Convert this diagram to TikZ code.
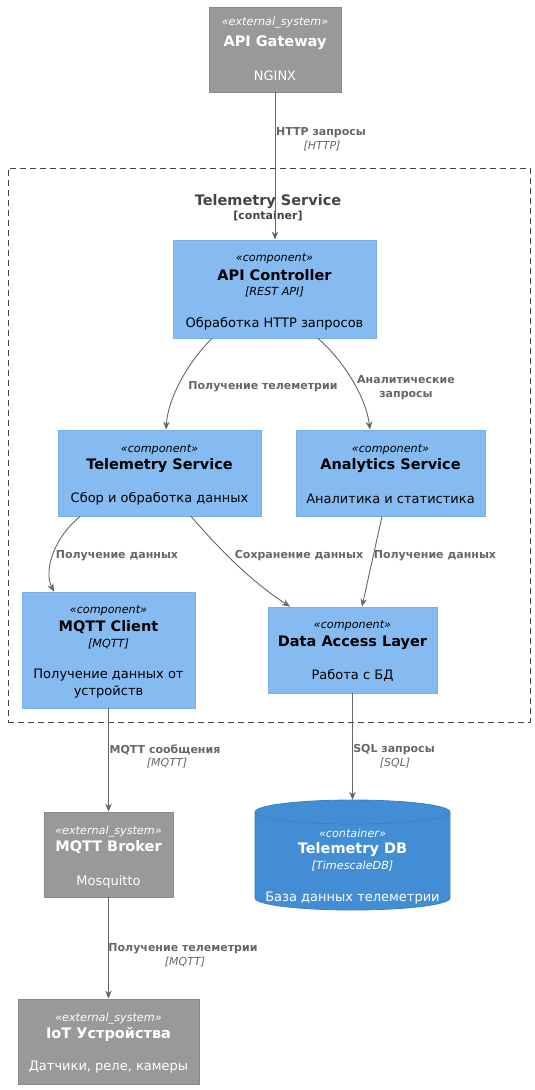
\documentclass[tikz,border=0pt]{standalone}
\usepackage{fontspec}
\setmainfont{DejaVu Sans}
\usetikzlibrary{arrows.meta}
\definecolor{compfill}{HTML}{85BBF0}
\definecolor{compdraw}{HTML}{7AB0E8}
\definecolor{extfill}{HTML}{999999}
\definecolor{extdraw}{HTML}{8A8A8A}
\definecolor{dbfill}{HTML}{438DD5}
\definecolor{dbdraw}{HTML}{3C7FC0}
\definecolor{edgecol}{HTML}{666666}
\definecolor{bndcol}{HTML}{444444}
\newcommand\myster{\fontsize{11.2}{13}\selectfont\itshape}
\newcommand\mytitle{\fontsize{14.5}{17}\selectfont\bfseries}
\newcommand\mydesc{\fontsize{13}{16}\selectfont}
\newcommand\mylbl{\fontsize{11}{13.5}\selectfont\bfseries}
\newcommand\mytech{\fontsize{11}{13}\selectfont\itshape}
\begin{document}
\begin{tikzpicture}[x=1pt,y=-1pt,
  compbox/.style={draw=compdraw, fill=compfill, line width=0.8pt, inner sep=0pt},
  extbox/.style={draw=extdraw, fill=extfill, line width=0.8pt, inner sep=0pt},
  txt/.style={inner sep=0pt, anchor=center, yshift=-1.5pt},
  wtxt/.style={txt, text=white},
  btxt/.style={txt, text=black},
  lbl/.style={inner sep=0pt, anchor=center, yshift=-1.5pt, text=edgecol, align=center, font=\mylbl},
  tech/.style={inner sep=0pt, anchor=center, yshift=-1.5pt, text=edgecol, font=\mytech},
  conn/.style={draw=edgecol, line width=0.9pt, -{Stealth[length=8pt,width=6.5pt]}}]
\useasboundingbox (0,0) rectangle (535,1090);

% boundary
\node[draw=bndcol, dash pattern=on 6pt off 4pt, line width=0.8pt, minimum width=522pt, minimum height=554pt, inner sep=0pt] (bnd) at (269,445) {};
\node[txt, text=bndcol, font=\fontsize{14.5}{17}\selectfont\bfseries] (bnd-t) at (268,200) {Telemetry Service};
\node[txt, text=bndcol, font=\fontsize{11}{13}\selectfont\bfseries] (bnd-c) at (268,215) {[container]};

% API Gateway
\node[extbox, minimum width=132pt, minimum height=85pt] (gw) at (275,49.5) {};
\node[wtxt, font=\myster] (gw-s) at (275,21) {«external\_system»};
\node[wtxt, font=\mytitle] (gw-t) at (275,41) {API Gateway};
\node[wtxt, font=\mydesc] (gw-d) at (275,74) {NGINX};

% API Controller
\node[compbox, minimum width=203pt, minimum height=98pt] (apic) at (274.5,289) {};
\node[btxt, font=\myster] (apic-s) at (274.5,257) {«component»};
\node[btxt, font=\mytitle] (apic-t) at (274.5,274) {API Controller};
\node[btxt, font=\myster] (apic-k) at (274.5,290) {[REST API]};
\node[btxt, font=\mydesc] (apic-d) at (274.5,322) {Обработка HTTP запросов};

% Telemetry Service component
\node[compbox, minimum width=203pt, minimum height=86pt] (tsc) at (159.5,473) {};
\node[btxt, font=\myster] (tsc-s) at (159.5,448) {«component»};
\node[btxt, font=\mytitle] (tsc-t) at (159.5,464) {Telemetry Service};
\node[btxt, font=\mydesc] (tsc-d) at (159.5,497) {Сбор и обработка данных};

% Analytics Service
\node[compbox, minimum width=189pt, minimum height=86pt] (asc) at (390.5,473) {};
\node[btxt, font=\myster] (asc-s) at (390.5,448) {«component»};
\node[btxt, font=\mytitle] (asc-t) at (390.5,464) {Analytics Service};
\node[btxt, font=\mydesc] (asc-d) at (390.5,497) {Аналитика и статистика};

% MQTT Client
\node[compbox, minimum width=173pt, minimum height=116pt] (mqc) at (108.5,650) {};
\node[btxt, font=\myster] (mqc-s) at (108.5,609) {«component»};
\node[btxt, font=\mytitle] (mqc-t) at (108.5,626) {MQTT Client};
\node[btxt, font=\myster] (mqc-k) at (108.5,642) {[MQTT]};
\node[btxt, font=\mydesc] (mqc-d1) at (108.5,674) {Получение данных от};
\node[btxt, font=\mydesc] (mqc-d2) at (108.5,690) {устройств};

% Data Access Layer
\node[compbox, minimum width=169pt, minimum height=86pt] (dal) at (352.5,650) {};
\node[btxt, font=\myster] (dal-s) at (352.5,624) {«component»};
\node[btxt, font=\mytitle] (dal-t) at (352.5,641) {Data Access Layer};
\node[btxt, font=\mydesc] (dal-d) at (352.5,674) {Работа с БД};

% MQTT Broker
\node[extbox, minimum width=129pt, minimum height=85pt] (broker) at (108.5,854.5) {};
\node[wtxt, font=\myster] (broker-s) at (108.5,830) {«external\_system»};
\node[wtxt, font=\mytitle] (broker-t) at (108.5,846) {MQTT Broker};
\node[wtxt, font=\mydesc] (broker-d) at (108.5,880) {Mosquitto};

% Telemetry DB (cylinder)
\fill[dbfill] (255,812) -- (255,898) arc[start angle=180, end angle=360, x radius=97.5pt, y radius=12pt]
  -- (450,812) arc[start angle=0, end angle=180, x radius=97.5pt, y radius=12pt] -- cycle;
\draw[dbdraw, line width=0.8pt] (255,812) -- (255,898) arc[start angle=180, end angle=360, x radius=97.5pt, y radius=12pt]
  -- (450,812) arc[start angle=0, end angle=180, x radius=97.5pt, y radius=12pt];
\draw[dbdraw, line width=0.6pt] (255,812) arc[start angle=180, end angle=360, x radius=97.5pt, y radius=12pt];
\node[inner sep=0pt, minimum width=195pt, minimum height=110pt] (db) at (352.5,855) {};
\node[wtxt, font=\myster] (db-s) at (352.5,832) {«container»};
\node[wtxt, font=\mytitle] (db-t) at (352.5,848) {Telemetry DB};
\node[wtxt, font=\myster] (db-k) at (352.5,864) {[TimescaleDB]};
\node[wtxt, font=\mydesc] (db-d) at (352.5,897) {База данных телеметрии};

% IoT devices
\node[extbox, minimum width=181pt, minimum height=85pt] (iot) at (108.5,1041.5) {};
\node[wtxt, font=\myster] (iot-s) at (108.5,1017) {«external\_system»};
\node[wtxt, font=\mytitle] (iot-t) at (108.5,1033) {IoT Устройства};
\node[wtxt, font=\mydesc] (iot-d) at (108.5,1066) {Датчики, реле, камеры};

% connectors
\draw[conn] (gw.south) -- (gw.south |- apic.north);
\node[lbl] (l1) at (321,131) {HTTP запросы};
\node[tech] (l1t) at (322,145) {[HTTP]};

\draw[conn] ([xshift=-62.5pt]apic.south) .. controls (188,362) and (168,398) .. ([xshift=6.5pt]tsc.north);
\node[lbl] (l2) at (263,385) {Получение телеметрии};

\draw[conn] ([xshift=43.5pt]apic.south) .. controls (345,362) and (366,398) .. ([xshift=-20.5pt]asc.north);
\node[lbl] (l3) at (406,386) {Аналитические\\запросы};

\draw[conn] ([xshift=-79.5pt]tsc.south) .. controls (52,540) and (44,572) .. ([xshift=-54.5pt]mqc.north);
\node[lbl] (l4) at (117,554) {Получение данных};

\draw[conn] ([xshift=31.5pt]tsc.south) .. controls (222,552) and (252,582) .. ([xshift=-62.5pt]dal.north);
\node[lbl] (l5) at (299,554) {Сохранение данных};

\draw[conn] ([xshift=-8.5pt]asc.south) -- ([xshift=9.5pt]dal.north);
\node[lbl] (l6) at (435,554) {Получение данных};

\draw[conn] (mqc.south) -- (broker.north);
\node[lbl] (l7) at (165,748) {MQTT сообщения};
\node[tech] (l7t) at (167,762) {[MQTT]};

\draw[conn] (dal.south) -- (db.north);
\node[lbl] (l8) at (394,748) {SQL запросы};
\node[tech] (l8t) at (395,762) {[SQL]};

\draw[conn] (broker.south) -- (iot.north);
\node[lbl] (l9) at (183,947) {Получение телеметрии};
\node[tech] (l9t) at (185,961) {[MQTT]};
\end{tikzpicture}
\end{document}
